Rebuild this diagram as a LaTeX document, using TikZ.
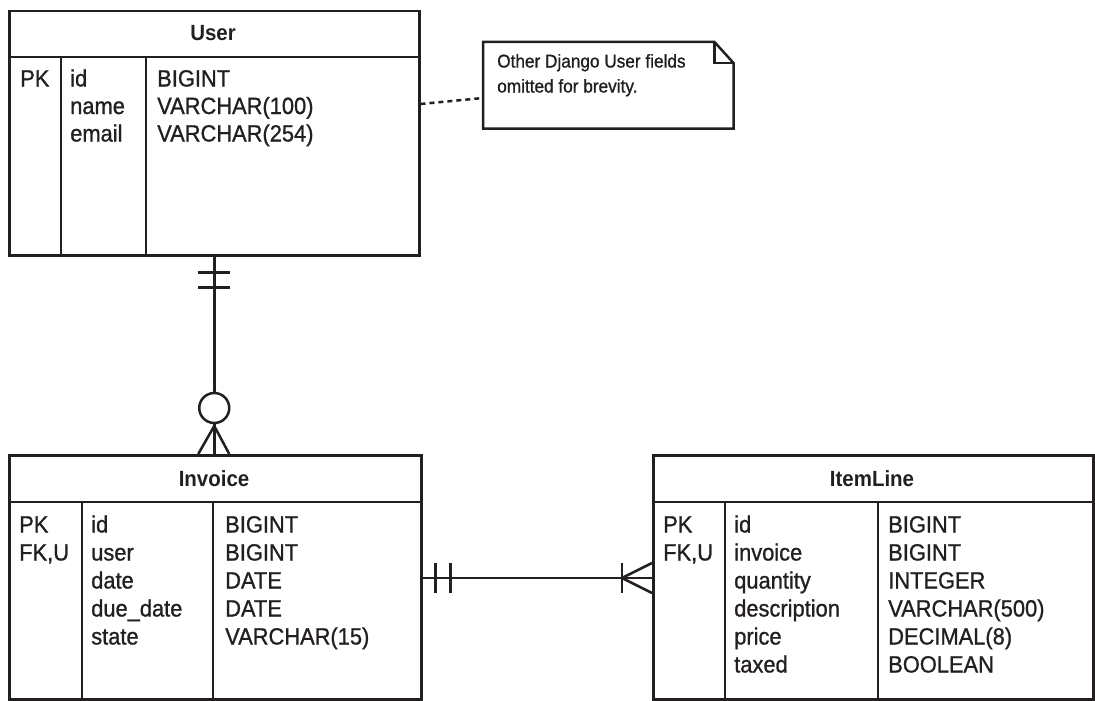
\documentclass[tikz,border=0pt]{standalone}
\usepackage{fontspec}
\setmainfont{Liberation Sans}[FakeStretch=0.93]
\newfontfamily\cellfont{Liberation Sans}[FakeBold=1.0,FakeStretch=0.93]
\definecolor{ink}{RGB}{35,31,32}
\tikzset{
  ent/.style={draw=ink, rectangle, inner sep=0pt, anchor=north west},
  hdr/.style={anchor=base, inner sep=0pt, text=ink, font=\fontsize{22}{26}\selectfont\bfseries},
  cell/.style={anchor=base west, inner sep=0pt, text=ink, font=\fontsize{23.5}{28}\cellfont},
  notetxt/.style={anchor=base west, inner sep=0pt, text=ink, font=\fontsize{18.5}{22}\cellfont},
  rule/.style={draw=ink},
  dotted link/.style={draw=ink, dash pattern=on 5pt off 4pt},
}
\begin{document}
\begin{tikzpicture}[x=1pt,y=-1pt,line width=2.5pt,line join=miter,line cap=butt]
\useasboundingbox (0,0) rectangle (1095,701);

% ---------- User ----------
\node[ent, minimum width=410pt, minimum height=244pt] (user) at (8,10) {};
\node[hdr] (userh) at (213,41) {User};
\draw[rule] (8,57) -- (418,57);
\draw[rule] (61,57) -- (61,254);
\draw[rule] (146,57) -- (146,254);
\node[cell] (u11) at (19,86.5) {PK};
\node[cell] (u21) at (69,86.5) {id};
\node[cell] (u22) at (69,114) {name};
\node[cell] (u23) at (69,141.5) {email};
\node[cell] (u31) at (156,86.5) {BIGINT};
\node[cell] (u32) at (156,114) {VARCHAR(100)};
\node[cell] (u33) at (156,141.5) {VARCHAR(254)};

% ---------- Note ----------
\node[minimum width=248pt, minimum height=84pt, inner sep=0pt, anchor=north west] (note) at (483,42) {};
\draw[draw=ink] (note.north west) -- ([xshift=-19pt]note.north east) -- ([yshift=-21pt]note.north east) -- (note.south east) -- (note.south west) -- cycle;
\draw[draw=ink] ([xshift=-19pt]note.north east) |- ([yshift=-21pt]note.north east);
\node[notetxt] (n1) at (496,67.5) {Other Django User fields};
\node[notetxt] (n2) at (496,92.5) {omitted for brevity.};
\draw[dotted link] ([yshift=-94pt]user.north east) -- ([yshift=-56pt]note.north west);

% ---------- Invoice ----------
\node[ent, minimum width=412pt, minimum height=244pt] (inv) at (8,454) {};
\node[hdr] (invh) at (214,486) {Invoice};
\draw[rule] (8,502) -- (420,502);
\draw[rule] (82,502) -- (82,698);
\draw[rule] (213,502) -- (213,698);
\node[cell] (i11) at (18,532.5) {PK};
\node[cell] (i12) at (18,560.5) {FK,U};
\node[cell] (i21) at (90,532.5) {id};
\node[cell] (i22) at (90,560.5) {user};
\node[cell] (i23) at (90,588.5) {date};
\node[cell] (i24) at (90,616.5) {due\_date};
\node[cell] (i25) at (90,644.5) {state};
\node[cell] (i31) at (224,532.5) {BIGINT};
\node[cell] (i32) at (224,560.5) {BIGINT};
\node[cell] (i33) at (224,588.5) {DATE};
\node[cell] (i34) at (224,616.5) {DATE};
\node[cell] (i35) at (224,644.5) {VARCHAR(15)};

% ---------- ItemLine ----------
\node[ent, minimum width=440pt, minimum height=244pt] (item) at (652,454) {};
\node[hdr] (itemh) at (872,486) {ItemLine};
\draw[rule] (652,502) -- (1092,502);
\draw[rule] (725,502) -- (725,698);
\draw[rule] (878,502) -- (878,698);
\node[cell] (l11) at (662,532.5) {PK};
\node[cell] (l12) at (662,560.5) {FK,U};
\node[cell] (l21) at (733,532.5) {id};
\node[cell] (l22) at (733,560.5) {invoice};
\node[cell] (l23) at (733,588.5) {quantity};
\node[cell] (l24) at (733,616.5) {description};
\node[cell] (l25) at (733,644.5) {price};
\node[cell] (l26) at (733,672.5) {taxed};
\node[cell] (l31) at (887,532.5) {BIGINT};
\node[cell] (l32) at (887,560.5) {BIGINT};
\node[cell] (l33) at (887,588.5) {INTEGER};
\node[cell] (l34) at (887,616.5) {VARCHAR(500)};
\node[cell] (l35) at (887,644.5) {DECIMAL(8)};
\node[cell] (l36) at (887,672.5) {BOOLEAN};

% ---------- User -> Invoice (one to zero-or-many) ----------
\draw[rule] (user.south) -- (user.south |- inv.north);
\draw[rule] ([xshift=-16pt,yshift=-16pt]user.south) -- ++(32,0);
\draw[rule] ([xshift=-16pt,yshift=-31pt]user.south) -- ++(32,0);
\coordinate (apex) at (user.south |- 0,426);
\draw[rule] ([xshift=-16pt]user.south |- inv.north) -- (apex) -- ([xshift=15pt]user.south |- inv.north);
\node[circle, draw=ink, fill=white, minimum size=30pt, inner sep=0pt] (ring) at (user.south |- 0,408) {};

% ---------- Invoice -> ItemLine (one to one-or-many) ----------
\coordinate (ie) at ([yshift=-124pt]inv.north east);
\coordinate (iw) at ([yshift=-124pt]item.north west);
\draw[rule] (ie) -- (iw);
\draw[rule] ([xshift=13pt,yshift=15pt]ie) -- ++(0,30);
\draw[rule] ([xshift=28pt,yshift=15pt]ie) -- ++(0,30);
\draw[rule] ([xshift=-30pt,yshift=15pt]iw) -- ++(0,30);
\draw[rule] ([yshift=15pt]iw) -- ([xshift=-30pt]iw) -- ([yshift=-15pt]iw);
\end{tikzpicture}
\end{document}
